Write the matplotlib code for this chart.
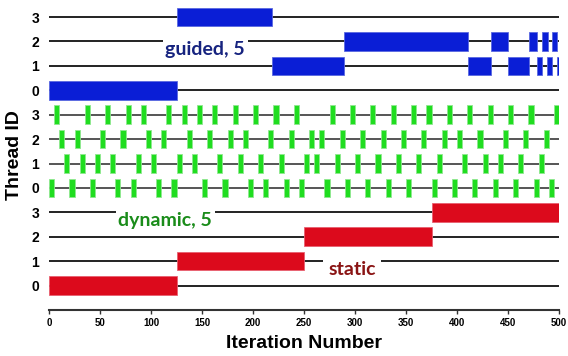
import matplotlib
matplotlib.use("Agg")
import matplotlib.pyplot as plt

# loop schedule: which iterations each thread ran (start, width)
static_starts = [0, 125, 250, 375]
static_widths = [125, 125, 125, 125]

dyn_t0 = [0, 20, 40, 65, 80, 105, 120, 150, 170, 195, 210, 230, 245, 270, 290, 310, 330, 350, 375, 395, 415, 435, 455, 475, 490]
dyn_t1 = [15, 30, 45, 60, 85, 100, 125, 140, 165, 185, 205, 225, 250, 260, 280, 300, 320, 340, 360, 380, 405, 425, 440, 460, 480]
dyn_t2 = [10, 25, 50, 70, 95, 110, 135, 155, 175, 190, 215, 235, 255, 265, 285, 305, 325, 345, 365, 385, 400, 420, 445, 465, 485]
dyn_t3 = [5, 35, 55, 75, 90, 115, 130, 145, 160, 180, 200, 220, 240, 275, 295, 315, 335, 355, 370, 390, 410, 430, 450, 470, 495]
dyn_chunk = 5

guided_t0_starts = [0]
guided_t0_widths = [125]
guided_t1_starts = [219, 411, 450, 478, 488, 498]
guided_t1_widths = [70, 22, 21, 5, 5, 2]
guided_t2_starts = [289, 433, 471, 483, 493]
guided_t2_widths = [122, 17, 7, 6, 5]
guided_t3_starts = [125]
guided_t3_widths = [94]

thread_labels = ["0", "1", "2", "3"]
x_ticks = [0, 50, 100, 150, 200, 250, 300, 350, 400, 450, 500]

RED = "#dc0a1c"
GREEN = "#20dd20"
BLUE = "#0a1ed6"
H = 0.76

fig = plt.figure(figsize=(5.68, 3.56), dpi=100)
ax = fig.add_axes([0.0863, 0.1292, 0.898, 0.8708])

# row lines
for row in range(12):
    c = "#555555" if 4 <= row <= 7 else "#222222"
    ax.axhline(row, color=c, lw=1.4, zorder=1)

# static
for i in range(4):
    ax.barh(i, static_widths[i], left=static_starts[i], height=H,
            color=RED, edgecolor="#e86070", lw=0.6, zorder=2)

# dynamic, 5
for i, starts in enumerate([dyn_t0, dyn_t1, dyn_t2, dyn_t3]):
    ax.barh([4 + i] * len(starts), [dyn_chunk] * len(starts),
            left=starts, height=H,
            color=GREEN, edgecolor="#8fe88f", lw=0.6, zorder=2)

# guided, 5
guided = [(guided_t0_starts, guided_t0_widths), (guided_t1_starts, guided_t1_widths),
          (guided_t2_starts, guided_t2_widths), (guided_t3_starts, guided_t3_widths)]
for i, (starts, widths) in enumerate(guided):
    ax.barh([8 + i] * len(starts), widths, left=starts, height=H,
            color=BLUE, edgecolor="#5a68e0", lw=0.6, zorder=2)

lbl = dict(fontsize=14, fontweight="bold", family="Lato", ha="center", va="center", zorder=3)
ax.text(153, 9.67, "guided, 5", color="#16237f",
        bbox=dict(facecolor="white", edgecolor="none", pad=2), **lbl)
ax.text(114, 2.67, "dynamic, 5", color="#1a8c1a",
        bbox=dict(facecolor="white", edgecolor="none", pad=2), **lbl)
ax.text(297, 0.67, "static", color="#8a1414",
        bbox=dict(facecolor="white", edgecolor="none", pad=4), **lbl)

ax.set_xlim(0, 500)
ax.set_ylim(-1, 11.7)
ax.set_xticks(x_ticks)
ax.set_xticklabels([str(t) for t in x_ticks], fontsize=7, fontweight="bold", family="Liberation Sans")
ax.set_yticks(range(12))
ax.set_yticklabels(thread_labels * 3, fontsize=10, fontweight="bold", family="Liberation Sans")
ax.tick_params(axis="y", length=0, pad=7)
ax.tick_params(axis="x", length=3, width=1, color="#333333", pad=3)

for s in ["top", "right", "left"]:
    ax.spines[s].set_visible(False)
ax.spines["bottom"].set_color("#333333")
ax.spines["bottom"].set_linewidth(1.5)

ax.set_xlabel("Iteration Number", fontsize=14, fontweight="bold", family="Liberation Sans", labelpad=5)
ax.set_ylabel("Thread ID", fontsize=14, fontweight="bold", family="Liberation Sans", labelpad=6)

fig.savefig("out.png", dpi=100)
